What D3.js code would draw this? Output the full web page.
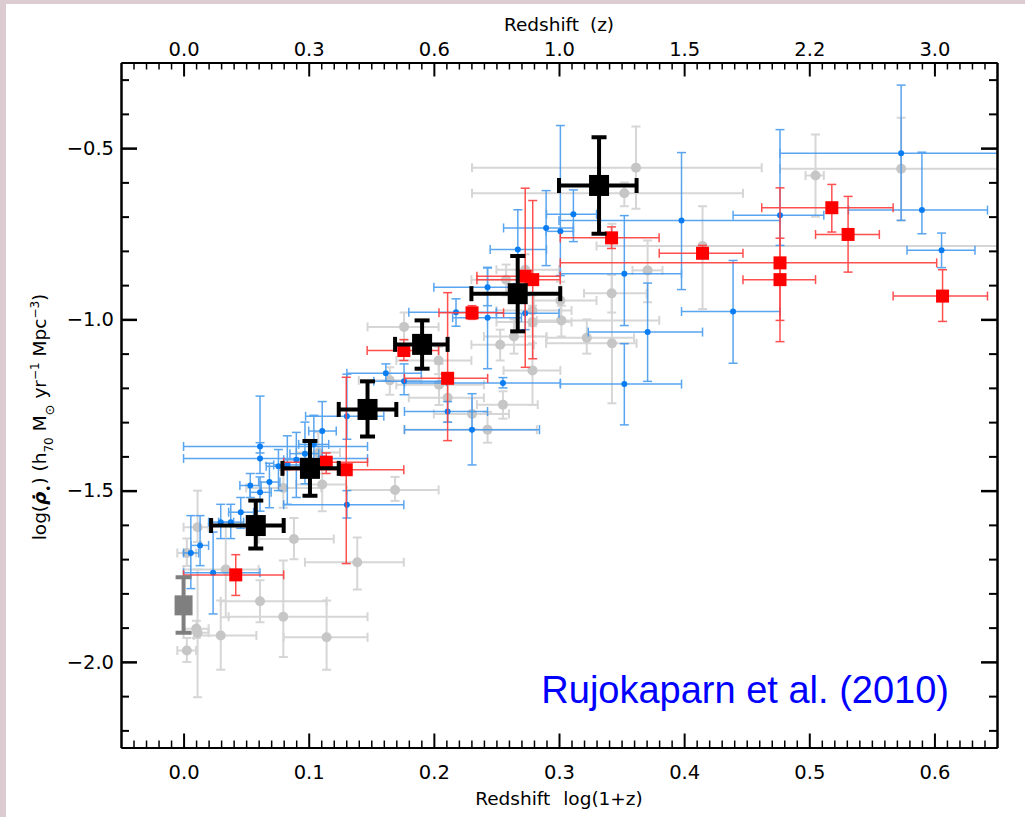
<!DOCTYPE html>
<html>
<head>
<meta charset="utf-8">
<script src="https://cdn.jsdelivr.net/npm/d3@7"></script>
<style>
  body { margin: 0; background: #dccbd0; }
  svg { display: block; }
  .axis text { font-family: "DejaVu Sans", sans-serif; font-size: 19.5px; fill: #000; }
  .axis path, .axis line { stroke: #000; }
</style>
</head>
<body>
<div id="chart"></div>
<script>
// each point: [log(1+z), log SFRD, xLo, xHi, yLo, yHi]
var grayPts = [
  [0.0112, -1.607, 0.0, 0.02, -1.65, -1.50],
  [0.0026, -1.682, -0.005, 0.01, -1.72, -1.64],
  [0.0337, -1.730, 0.0, 0.06, -1.87, -1.60],
  [0.0611, -1.823, 0.0297, 0.1143, -1.884, -1.762],
  [0.0797, -1.868, 0.036, 0.147, -1.986, -1.704],
  [0.0297, -1.923, 0.0082, 0.0582, -2.023, -1.821],
  [0.0102, -1.903, 0.0, 0.02, -1.93, -1.88],
  [0.0112, -1.915, 0.0, 0.02, -2.103, -1.73],
  [0.0026, -1.967, -0.005, 0.01, -2.0, -1.93],
  [0.1143, -1.928, 0.080, 0.147, -2.023, -1.821],
  [0.0882, -1.641, 0.06, 0.12, -1.70, -1.58],
  [0.1388, -1.709, 0.097, 0.176, -1.789, -1.637],
  [0.0797, -1.492, 0.05, 0.11, -1.55, -1.44],
  [0.1108, -1.482, 0.09, 0.13, -1.56, -1.40],
  [0.169, -1.498, 0.1305, 0.2038, -1.53, -1.46],
  [0.1077, -1.389, 0.09, 0.125, -1.45, -1.33],
  [0.2429, -1.322, 0.1765, 0.2823, -1.36, -1.27],
  [0.2305, -1.276, 0.20, 0.26, -1.32, -1.23],
  [0.2552, -1.249, 0.2344, 0.283, -1.29, -1.21],
  [0.1762, -1.022, 0.147, 0.2038, -1.06, -0.98],
  [0.2038, -1.120, 0.17, 0.23, -1.16, -1.08],
  [0.1648, -1.178, 0.14, 0.19, -1.22, -1.14],
  [0.2041, -1.191, 0.17, 0.24, -1.25, -1.13],
  [0.211, -1.229, 0.18, 0.24, -1.30, -1.16],
  [0.2788, -1.149, 0.2557, 0.3011, -1.25, -1.07],
  [0.253, -1.074, 0.23, 0.28, -1.12, -1.03],
  [0.264, -1.050, 0.24, 0.29, -1.10, -1.00],
  [0.2788, -1.008, 0.25, 0.31, -1.05, -0.96],
  [0.2788, -0.974, 0.25, 0.31, -1.02, -0.93],
  [0.3019, -1.003, 0.2823, 0.3801, -1.05, -0.96],
  [0.3222, -1.054, 0.29, 0.36, -1.10, -1.00],
  [0.3423, -1.070, 0.2897, 0.362, -1.245, -0.721],
  [0.3421, -0.924, 0.32, 0.37, -0.98, -0.87],
  [0.2577, -0.884, 0.23, 0.28, -0.93, -0.84],
  [0.273, -0.855, 0.25, 0.30, -0.90, -0.81],
  [0.3011, -0.945, 0.28, 0.33, -1.00, -0.89],
  [0.3708, -0.857, 0.3587, 0.3827, -0.95, -0.77],
  [0.3615, -0.557, 0.2305, 0.462, -0.677, -0.437],
  [0.3522, -0.632, 0.2305, 0.447, -0.67, -0.60],
  [0.505, -0.580, 0.497, 0.5116, -0.70, -0.46],
  [0.5734, -0.560, 0.4766, 0.66, -0.711, -0.411],
  [0.4147, -0.786, 0.33, 0.66, -0.970, -0.670]
];

var bluePts = [
  [0.0058, -1.682, 0.0, 0.012, -1.786, -1.573],
  [0.0132, -1.660, 0.006, 0.02, -1.719, -1.573],
  [0.0236, -1.740, 0.0, 0.0611, -1.860, -1.621],
  [0.0297, -1.592, 0.02, 0.04, -1.64, -1.54],
  [0.0377, -1.592, 0.028, 0.048, -1.64, -1.54],
  [0.0457, -1.563, 0.036, 0.056, -1.61, -1.52],
  [0.0533, -1.485, 0.045, 0.062, -1.52, -1.45],
  [0.0611, -1.505, 0.053, 0.07, -1.56, -1.46],
  [0.0611, -1.406, 0.0, 0.147, -1.45, -1.36],
  [0.0611, -1.371, 0.0, 0.147, -1.39, -1.224],
  [0.0686, -1.475, 0.06, 0.077, -1.55, -1.42],
  [0.0758, -1.429, 0.066, 0.085, -1.50, -1.38],
  [0.0829, -1.425, 0.072, 0.093, -1.54, -1.34],
  [0.0901, -1.410, 0.08, 0.10, -1.52, -1.33],
  [0.097, -1.392, 0.085, 0.108, -1.48, -1.30],
  [0.1041, -1.365, 0.092, 0.116, -1.45, -1.28],
  [0.1108, -1.326, 0.10, 0.122, -1.40, -1.24],
  [0.1305, -1.283, 0.0975, 0.16, -1.35, -1.16],
  [0.1305, -1.541, 0.080, 0.176, -1.58, -1.50],
  [0.1616, -1.157, 0.1305, 0.19, -1.18, -1.13],
  [0.1762, -1.181, 0.152, 0.21, -1.22, -1.13],
  [0.211, -1.269, 0.1765, 0.2429, -1.30, -1.24],
  [0.2305, -1.322, 0.1765, 0.2844, -1.425, -1.217],
  [0.2552, -1.186, 0.1765, 0.3011, -1.20, -1.17],
  [0.2177, -0.979, 0.18, 0.25, -1.02, -0.94],
  [0.2429, -0.906, 0.20, 0.264, -0.96, -0.85],
  [0.2429, -0.995, 0.215, 0.27, -1.144, -0.848],
  [0.273, -0.982, 0.25, 0.30, -1.03, -0.93],
  [0.2671, -0.796, 0.245, 0.29, -0.90, -0.68],
  [0.2897, -0.733, 0.2557, 0.3115, -0.843, -0.624],
  [0.3011, -0.743, 0.2897, 0.3115, -0.872, -0.434],
  [0.3115, -0.693, 0.29, 0.33, -0.773, -0.622],
  [0.3979, -0.711, 0.30, 0.4766, -0.913, -0.513],
  [0.3522, -0.867, 0.3011, 0.3979, -1.018, -0.697],
  [0.3708, -1.037, 0.3234, 0.4147, -1.181, -0.894],
  [0.3522, -1.189, 0.3011, 0.3979, -1.308, -1.071],
  [0.4391, -0.977, 0.3979, 0.4766, -1.128, -0.828],
  [0.4766, -0.696, 0.4391, 0.5116, -0.784, -0.446],
  [0.5734, -0.515, 0.4766, 0.66, -0.711, -0.316],
  [0.590, -0.681, 0.5313, 0.6424, -0.750, -0.512],
  [0.6057, -0.798, 0.5781, 0.6324, -0.849, -0.748]
];

var redPts = [
  [0.0417, -1.746, 0.0, 0.080, -1.806, -1.687],
  [0.114, -1.417, 0.080, 0.147, -1.45, -1.39],
  [0.130, -1.439, 0.080, 0.176, -1.713, -1.169],
  [0.176, -1.091, 0.1467, 0.2038, -1.12, -1.059],
  [0.211, -1.172, 0.1765, 0.243, -1.354, -0.922],
  [0.2305, -0.981, 0.2041, 0.2557, -1.00, -0.96],
  [0.273, -0.874, 0.2344, 0.301, -1.140, -0.617],
  [0.279, -0.884, 0.2344, 0.301, -1.115, -0.653],
  [0.342, -0.762, 0.301, 0.380, -0.793, -0.730],
  [0.4147, -0.807, 0.3801, 0.447, -0.818, -0.784],
  [0.4766, -0.835, 0.301, 0.6018, -1.003, -0.616],
  [0.4766, -0.884, 0.447, 0.505, -1.065, -0.763],
  [0.518, -0.674, 0.462, 0.567, -0.745, -0.606],
  [0.531, -0.752, 0.505, 0.556, -0.862, -0.641],
  [0.6065, -0.932, 0.567, 0.6424, -1.006, -0.855]
];

var blackPts = [
  [0.0577, -1.602, 0.022, 0.080, -1.669, -1.529],
  [0.101, -1.435, 0.079, 0.124, -1.515, -1.355],
  [0.147, -1.263, 0.124, 0.170, -1.342, -1.181],
  [0.1906, -1.073, 0.169, 0.211, -1.144, -1.003],
  [0.267, -0.925, 0.230, 0.301, -1.035, -0.815],
  [0.332, -0.609, 0.300, 0.362, -0.750, -0.468]
];

var localPts = [[0.0, -1.835, 0.0, 0.0, -1.915, -1.753]];

var xMajor = [0.0, 0.1, 0.2, 0.3, 0.4, 0.5, 0.6];
var yMajor = [-0.5, -1.0, -1.5, -2.0];
var legendText = "Rujokaparn et al. (2010)";

var W = 1025, H = 817;
var margin = { top: 62.5, right: 28, bottom: 69.5, left: 121 };

var svg = d3.select("#chart").append("svg")
  .attr("width", W).attr("height", H);

// white panel over the textured border
svg.append("rect").attr("x", 6).attr("y", 4).attr("width", W - 6).attr("height", H - 4).attr("fill", "#fff");

var x = d3.scaleLinear().domain([-0.05, 0.65]).range([margin.left, W - margin.right]);
var y = d3.scaleLinear().domain([-2.25, -0.25]).range([H - margin.bottom, margin.top]);

svg.append("clipPath").attr("id", "plotClip").append("rect")
  .attr("x", x.range()[0]).attr("y", y.range()[1])
  .attr("width", x.range()[1] - x.range()[0]).attr("height", y.range()[0] - y.range()[1]);

var plot = svg.append("g").attr("clip-path", "url(#plotClip)");

function errorBars(data, color, width, cap, opacity) {
  var g = plot.append("g").attr("stroke", color).attr("stroke-width", width)
    .attr("opacity", opacity).attr("fill", "none");
  data.forEach(function(d) {
    var cx = x(d[0]), cy = y(d[1]);
    if (d[3] > d[2]) {
      g.append("line").attr("x1", x(d[2])).attr("x2", x(d[3])).attr("y1", cy).attr("y2", cy);
      g.append("line").attr("x1", x(d[2])).attr("x2", x(d[2])).attr("y1", cy - cap / 2).attr("y2", cy + cap / 2);
      g.append("line").attr("x1", x(d[3])).attr("x2", x(d[3])).attr("y1", cy - cap / 2).attr("y2", cy + cap / 2);
    }
    if (d[5] > d[4]) {
      g.append("line").attr("x1", cx).attr("x2", cx).attr("y1", y(d[4])).attr("y2", y(d[5]));
      g.append("line").attr("x1", cx - cap / 2).attr("x2", cx + cap / 2).attr("y1", y(d[4])).attr("y2", y(d[4]));
      g.append("line").attr("x1", cx - cap / 2).attr("x2", cx + cap / 2).attr("y1", y(d[5])).attr("y2", y(d[5]));
    }
  });
}

function squares(data, color, w, h) {
  plot.append("g").selectAll("rect").data(data).enter().append("rect")
    .attr("x", function(d) { return x(d[0]) - w / 2; })
    .attr("y", function(d) { return y(d[1]) - h / 2; })
    .attr("width", w).attr("height", h)
    .attr("fill", color);
}

// gray compilation
errorBars(grayPts, "#d6d6d6", 2, 9, 1);
plot.append("g").selectAll("circle").data(grayPts).enter().append("circle")
  .attr("cx", function(d) { return x(d[0]); })
  .attr("cy", function(d) { return y(d[1]); })
  .attr("r", 5).attr("fill", "#c6c6c6");

// blue compilation
errorBars(bluePts, "#3d96ee", 1.5, 9, 0.85);
plot.append("g").selectAll("circle").data(bluePts).enter().append("circle")
  .attr("cx", function(d) { return x(d[0]); })
  .attr("cy", function(d) { return y(d[1]); })
  .attr("r", 3).attr("fill", "#0a7df2");

// red
errorBars(redPts, "#ff3c3c", 1.5, 9, 0.9);
squares(redPts, "#ff0000", 13, 13);

// local point and binned black
errorBars(localPts, "#7f7f7f", 4, 16, 1);
squares(localPts, "#7f7f7f", 18, 20);
errorBars(blackPts, "#000", 4, 15, 1);
squares(blackPts, "#000", 20, 21);

// axes
var xMinor = d3.range(-4, 65).map(function(i) { return i / 100; })
  .filter(function(v) { return Math.abs(v * 10 - Math.round(v * 10)) > 1e-6; });
var yMinor = d3.range(-22, -2).map(function(i) { return i / 10; })
  .filter(function(v) { return Math.abs(v * 2 - Math.round(v * 2)) > 1e-6; });

function styleAxis(g, w) {
  g.attr("class", "axis");
  g.select(".domain").attr("stroke-width", 2);
  g.selectAll(".tick line").attr("stroke-width", w);
}

var bottomAx = svg.append("g").attr("transform", "translate(0," + y.range()[0] + ")");
bottomAx.append("g").call(d3.axisBottom(x).tickValues(xMinor).tickSize(-7).tickSizeOuter(0).tickFormat(""))
  .call(styleAxis, 1.5);
bottomAx.append("g").call(d3.axisBottom(x).tickValues(xMajor).tickSize(-14).tickSizeOuter(0).tickPadding(18)
  .tickFormat(d3.format(".1f"))).call(styleAxis, 2);

var topAx = svg.append("g").attr("transform", "translate(0," + y.range()[1] + ")");
topAx.append("g").call(d3.axisTop(x).tickValues(xMinor).tickSize(-7).tickSizeOuter(0).tickFormat(""))
  .call(styleAxis, 1.5);
topAx.append("g").call(d3.axisTop(x).tickValues(xMajor).tickSize(-14).tickSizeOuter(0).tickPadding(7)
  .tickFormat(function(d) { return (Math.pow(10, d) - 1).toFixed(1); })).call(styleAxis, 2);

var leftAx = svg.append("g").attr("transform", "translate(" + x.range()[0] + ",0)");
leftAx.append("g").call(d3.axisLeft(y).tickValues(yMinor).tickSize(-8).tickSizeOuter(0).tickFormat(""))
  .call(styleAxis, 2);
leftAx.append("g").call(d3.axisLeft(y).tickValues(yMajor).tickSize(-16).tickSizeOuter(0).tickPadding(7)
  .tickFormat(d3.format(".1f"))).call(styleAxis, 2.5);

var rightAx = svg.append("g").attr("transform", "translate(" + x.range()[1] + ",0)");
rightAx.append("g").call(d3.axisRight(y).tickValues(yMinor).tickSize(-8).tickSizeOuter(0).tickFormat(""))
  .call(styleAxis, 2);
rightAx.append("g").call(d3.axisRight(y).tickValues(yMajor).tickSize(-16).tickSizeOuter(0).tickFormat(""))
  .call(styleAxis, 2.5);

// titles
var titleFont = "'DejaVu Sans', sans-serif";
svg.append("text").attr("x", (x.range()[0] + x.range()[1]) / 2).attr("y", 31)
  .attr("text-anchor", "middle").attr("font-family", titleFont).attr("font-size", 18.5)
  .attr("word-spacing", 5).text("Redshift (z)");
svg.append("text").attr("x", (x.range()[0] + x.range()[1]) / 2).attr("y", 805)
  .attr("text-anchor", "middle").attr("font-family", titleFont).attr("font-size", 18.5)
  .attr("word-spacing", 7).text("Redshift log(1+z)");

var yt = svg.append("text")
  .attr("transform", "translate(46," + ((y.range()[0] + y.range()[1]) / 2 + 12) + ") rotate(-90)")
  .attr("text-anchor", "middle").attr("font-family", titleFont).attr("font-size", 18.5);
yt.append("tspan").text("log(");
yt.append("tspan").attr("font-style", "italic").attr("font-weight", "bold").text("\u03C1\u0307");
yt.append("tspan").attr("baseline-shift", "sub").attr("font-size", 12).text("\u2022");
yt.append("tspan").text(")  (h");
yt.append("tspan").attr("baseline-shift", "sub").attr("font-size", 12).text("70");
yt.append("tspan").text(" M");
yt.append("tspan").attr("baseline-shift", "sub").attr("font-size", 13).text("\u2299");
yt.append("tspan").text(" yr");
yt.append("tspan").attr("baseline-shift", "super").attr("font-size", 12).text("\u22121");
yt.append("tspan").text(" Mpc");
yt.append("tspan").attr("baseline-shift", "super").attr("font-size", 12).text("\u22123");
yt.append("tspan").text(")");

svg.append("text").attr("x", 949).attr("y", 703).attr("text-anchor", "end")
  .attr("font-family", "'Liberation Sans', Arial, sans-serif").attr("font-size", 38)
  .attr("fill", "#0000ff").text(legendText);
</script>
</body>
</html>
